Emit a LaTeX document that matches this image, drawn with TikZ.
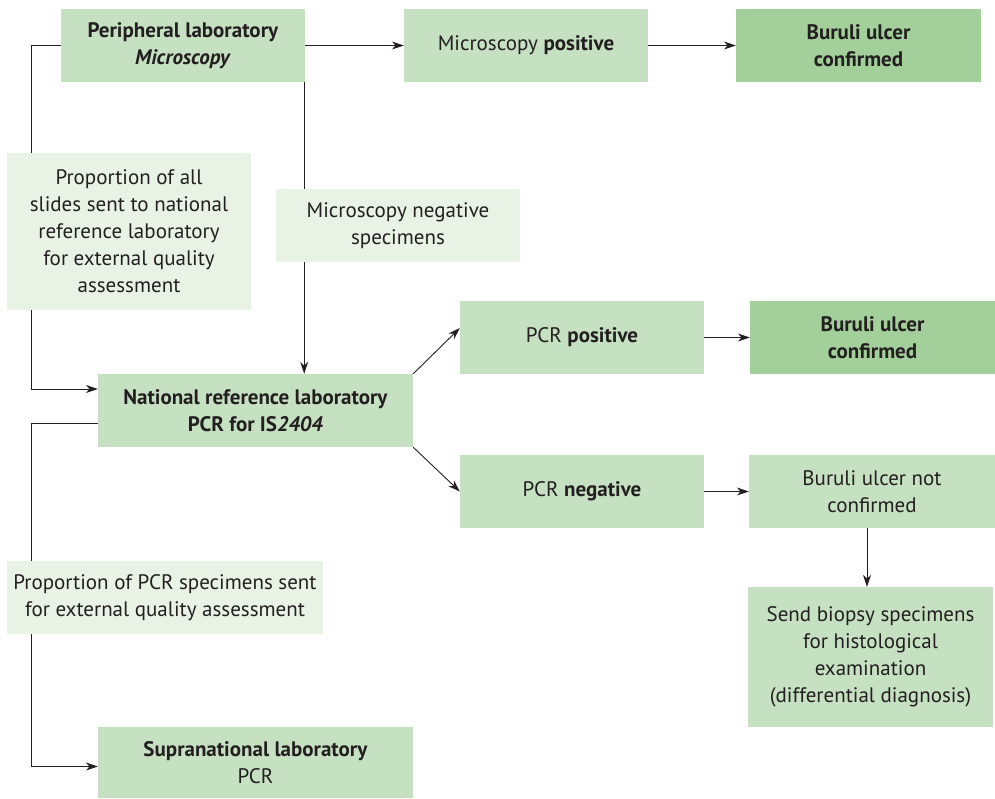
\documentclass[tikz,border=0pt]{standalone}
\usepackage{fontspec}
\setmainfont{PT Sans}
\usetikzlibrary{arrows.meta}

\definecolor{boxgreen}{HTML}{C6E0C2}
\definecolor{okgreen}{HTML}{A3CF9A}
\definecolor{palegreen}{HTML}{E8F3E6}
\definecolor{ink}{HTML}{231F20}

\begin{document}
\begin{tikzpicture}[x=1pt, y=-1pt,
    box/.style={fill=boxgreen, minimum width=244pt, minimum height=73pt,
        inner sep=3pt, align=center, text=ink, font=\fontsize{21}{27}\selectfont},
    okbox/.style={box, fill=okgreen, font=\fontsize{21}{27}\selectfont\bfseries},
    note/.style={box, fill=palegreen},
    link/.style={draw=ink, line width=0.9pt, -{Stealth[length=12pt, width=8pt]}}]
 \useasboundingbox (0,0) rectangle (995,798);
 % microscopy level
 \node at (183,45.5) (periph) [box] {\textbf{Peripheral laboratory}\\\textbf{\textit{Microscopy}}};
 \node at (526,45.5) (micpos) [box] {Microscopy \textbf{positive}};
 \node at (858.5,45.5) (confa) [okbox, minimum width=245pt] {Buruli ulcer\\confirmed};
 % PCR level
 \node at (255.5,410.5) (natl) [box, minimum width=315pt] {\textbf{National reference laboratory}\\\textbf{PCR for IS\textit{2404}}};
 \node at (582,337.5) (pcrpos) [box] {PCR \textbf{positive}};
 \node at (872.5,337.5) (confb) [okbox, minimum width=245pt] {Buruli ulcer\\confirmed};
 \node at (582,491.5) (pcrneg) [box] {PCR \textbf{negative}};
 \node at (872,491.5) (notconf) [box, minimum width=246pt] {Buruli ulcer not\\confirmed};
 \node at (870.5,657) (biopsy) [box, minimum width=245pt, minimum height=140pt] {Send biopsy specimens\\for histological\\examination\\(differential diagnosis)};
 \node at (255.5,762.5) (supra) [box, minimum width=315pt, minimum height=71pt] {\textbf{Supranational laboratory}\\PCR};
 % arrows
 \draw [link] (periph) -- (micpos);
 \draw [link] (micpos) -- (confa);
 \draw [link] ([xshift=-1pt]periph.south east) -- ([xshift=-1pt]periph.south east |- natl.north);
 \draw [link] (periph.west) -- ++(-29,0) |- ([yshift=21.5pt]natl.west);
 \draw [link] ([yshift=-12.5pt]natl.west) -- ++(-66,0) |- ([yshift=-4pt]supra.west);
 \draw [link] (natl.north east) -- ([yshift=9.5pt]pcrpos.west);
 \draw [link] (natl.south east) -- (pcrneg.west);
 \draw [link] (pcrpos) -- (confb);
 \draw [link] (pcrneg) -- (notconf);
 \draw [link] ([xshift=-5pt]notconf.south) -- ([xshift=-5pt]notconf.south |- biopsy.north);
 % notes on the lines
 \node at (129,231.5) (propslides) [note, minimum height=157pt] {Proportion of all\\slides sent to national\\reference laboratory\\for external quality\\assessment};
 \node at (398,225.5) (micneg) [note] {Microscopy negative\\specimens};
 \node at (165,597.5) (proppcr) [note, minimum width=316pt] {Proportion of PCR specimens sent\\for external quality assessment};
\end{tikzpicture}
\end{document}
